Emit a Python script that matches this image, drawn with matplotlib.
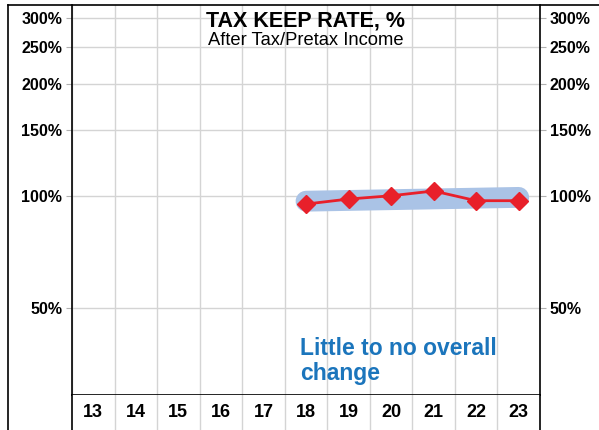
import matplotlib
matplotlib.use("Agg")
from matplotlib import pyplot as plt
from matplotlib.lines import Line2D

plt.rcParams['font.family'] = ['Liberation Sans', 'DejaVu Sans']

years = [13, 14, 15, 16, 17, 18, 19, 20, 21, 22, 23]
data_years = [18, 19, 20, 21, 22, 23]
keep_rate = [95, 98, 100, 103, 97, 97]
trend_years = [18, 23]
trend_vals = [96.7, 99.0]
y_ticks = [50, 100, 150, 200, 250, 300]
y_labels = ['50%', '100%', '150%', '200%', '250%', '300%']

W, H = 599, 430
fig = plt.figure(figsize=(W / 100, H / 100), dpi=100)

x0, x1 = 72, 540
ytop, ybot = 5, 395
ax = fig.add_axes([x0 / W, (H - ybot) / H, (x1 - x0) / W, (ybot - ytop) / H])
ax.set_yscale('log')
ax.set_xlim(12.5, 23.5)
ax.set_ylim(29.2, 325)
ax.minorticks_off()
ax.set_yticks(y_ticks)
ax.set_yticklabels(y_labels, fontsize=11.5, fontweight='bold')
ax.tick_params(axis='y', which='both', left=True, right=True, labelleft=True,
               labelright=True, length=4, color='#b0b0b0', pad=3)
ax.set_xticks([])
for yv in y_ticks:
    ax.axhline(yv, color='#d4d4d4', lw=1, zorder=0)
for xb in range(13, 24):
    ax.axvline(xb - 0.5, color='#d4d4d4', lw=1, zorder=0)
ax.spines['top'].set_visible(False)
for s in ['left', 'right', 'bottom']:
    ax.spines[s].set_linewidth(1.2)

ax.plot(trend_years, trend_vals, color='#aac3e6', lw=15, solid_capstyle='round', zorder=2)
ax.plot(data_years, keep_rate, color='#e8202a', lw=2, marker='D', markersize=9,
        markeredgecolor='#e8202a', zorder=3)

ax.text(0.5, 0.985, 'TAX KEEP RATE, %', transform=ax.transAxes, ha='center', va='top',
        fontsize=15.5, fontweight='bold')
ax.text(0.5, 0.93, 'After Tax/Pretax Income', transform=ax.transAxes, ha='center', va='top',
        fontsize=13.2)
ax.text(17.86, 41.7, 'Little to no overall\nchange', color='#1b75bc', fontsize=16.5,
        fontweight='bold', ha='left', va='top', linespacing=1.08)

# bottom strip with year labels
bx = fig.add_axes([x0 / W, 0, (x1 - x0) / W, (H - ybot) / H])
bx.set_xlim(12.5, 23.5)
bx.set_ylim(0, 1)
bx.set_xticks([])
bx.set_yticks([])
bx.spines['top'].set_visible(False)
bx.spines['bottom'].set_visible(False)
for s in ['left', 'right']:
    bx.spines[s].set_linewidth(1.2)
for xb in range(14, 24):
    bx.axvline(xb - 0.5, color='#d4d4d4', lw=1)
for yr in years:
    bx.text(yr, 0.5, str(yr), ha='center', va='center', fontsize=13, fontweight='bold')

# outer frame lines
fig.add_artist(Line2D([8 / W, 8 / W], [0, (H - 5) / H], color='black', lw=1.2))
fig.add_artist(Line2D([8 / W, 1], [(H - 5) / H, (H - 5) / H], color='black', lw=1.2))

fig.savefig('out.png', dpi=100)
